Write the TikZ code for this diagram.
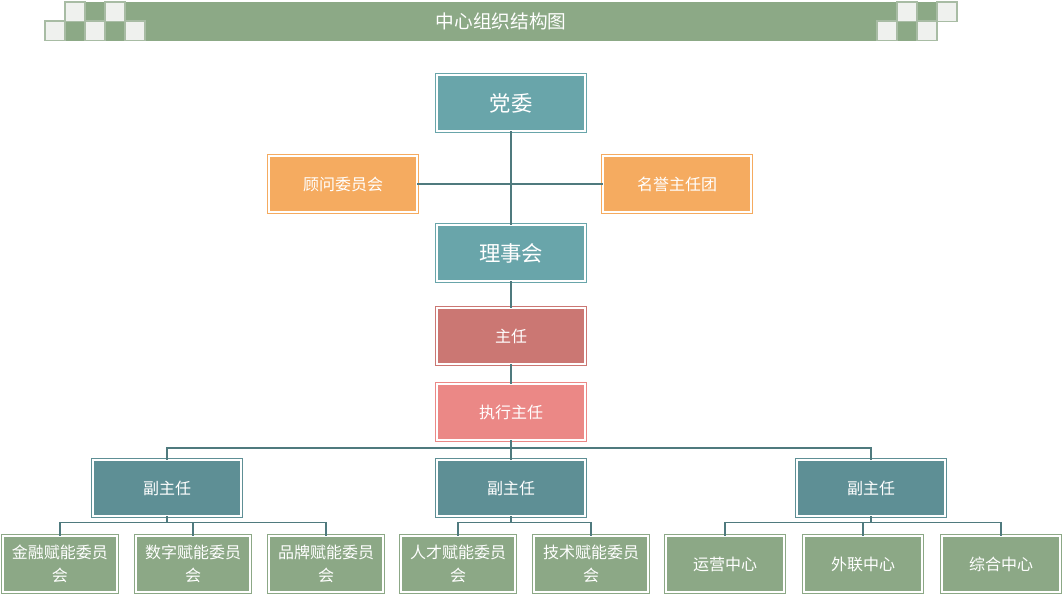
\documentclass[tikz,border=0pt]{standalone}
\usepackage{fontspec}
\setmainfont{Noto Sans CJK SC}
\usepackage{tikz}
\usetikzlibrary{positioning,calc}
\definecolor{cband}{HTML}{8CA986}
\definecolor{cchk}{HTML}{EFF1EE}
\definecolor{cchkD}{HTML}{A8BCA4}
\definecolor{ctop}{HTML}{69A5AA}
\definecolor{cvice}{HTML}{5E8F95}
\definecolor{cside}{HTML}{F5AB60}
\definecolor{chead}{HTML}{CB7773}
\definecolor{cexec}{HTML}{EB8886}
\definecolor{cunit}{HTML}{8CA886}
\definecolor{clink}{HTML}{4F7A7E}
\tikzset{
  fbox/.style={draw, double=white, double distance=1.5pt, line width=0.6pt,
               align=center, inner sep=2pt, minimum width=111pt,
               minimum height=42pt, text=white, font=\fontsize{12}{17}\selectfont},
  ntop/.style={fbox, fill=ctop, draw=ctop, font=\fontsize{16}{19}\selectfont},
  nside/.style={fbox, fill=cside, draw=cside},
  nhead/.style={fbox, fill=chead, draw=chead},
  nexec/.style={fbox, fill=cexec, draw=cexec},
  nvice/.style={fbox, fill=cvice, draw=cvice},
  nunit/.style={fbox, fill=cunit, draw=cunit, minimum width=85.5pt},
  nunitw/.style={nunit, minimum width=88.5pt},
  chk/.style={fill=cchk, draw=cchkD, line width=0.8pt},
  link/.style={draw=clink, line width=0.8pt},
}
\begin{document}
\begin{tikzpicture}[x=0.75pt, y=-0.75pt]
  \useasboundingbox (0,0) rectangle (1064,596);
  % title band
  \fill[cband] (65,2) rectangle (937,41);
  \foreach \x/\y in {65/2, 105/2, 45/21, 85/21, 125/21, 897/2, 937/2, 877/21, 917/21}
    \draw[chk] (\x,\y) rectangle ++(20,19.5);
  \node[text=white, font=\fontsize{14}{16}\selectfont] (title) at (501,21) {中心组织结构图};
  % upper chain
  \node[ntop] (dw) at (511,103) {党委};
  \node[nside] (gw) at (343,184) {顾问委员会};
  \node[nside] (mr) at (677,184) {名誉主任团};
  \node[ntop] (lsh) at (511,253) {理事会};
  \node[nhead] (zr) at (511,336) {主任};
  \node[nexec] (zx) at (511,412) {执行主任};
  % vice directors
  \node[nvice] (fzl) at (167,488) {副主任};
  \node[nvice] (fzm) at (511,488) {副主任};
  \node[nvice] (fzr) at (871,488) {副主任};
  % units
  \node[nunit] (u1) at (60,564) {金融赋能委员\\会};
  \node[nunit] (u2) at (193,564) {数字赋能委员\\会};
  \node[nunit] (u3) at (326,564) {品牌赋能委员\\会};
  \node[nunit] (u4) at (458,564) {人才赋能委员\\会};
  \node[nunit] (u5) at (591,564) {技术赋能委员\\会};
  \node[nunitw] (u6) at (725,564) {运营中心};
  \node[nunitw] (u7) at (863,564) {外联中心};
  \node[nunitw] (u8) at (1001,564) {综合中心};
  % connectors
  \draw[link] (dw) -- (lsh);
  \draw[link] (gw) -- (mr);
  \draw[link] (lsh) -- (zr);
  \draw[link] (zr) -- (zx);
  \coordinate (bus) at (511,448);
  \draw[link] (zx.south) -- (bus);
  \foreach \v in {fzl,fzm,fzr}
    \draw[link] (bus) -| (\v.north);
  \foreach \u in {u1,u2,u3}
    \draw[link] (fzl.south) -- ++(0,6) -| (\u.north);
  \foreach \u in {u4,u5}
    \draw[link] (fzm.south) -- ++(0,6) -| (\u.north);
  \foreach \u in {u6,u7,u8}
    \draw[link] (fzr.south) -- ++(0,6) -| (\u.north);
\end{tikzpicture}
\end{document}
